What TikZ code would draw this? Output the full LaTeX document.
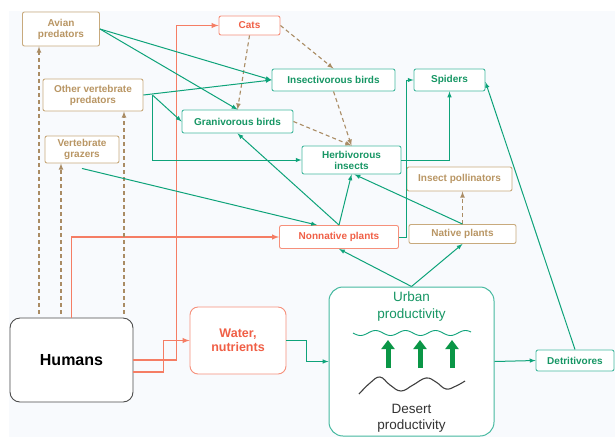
\documentclass[tikz,border=0pt]{standalone}
\usepackage{fontspec}
\setmainfont{Liberation Sans}
\usepackage{tikz}
\usetikzlibrary{positioning, arrows.meta}

\definecolor{grnline}{RGB}{14,163,122}
\definecolor{grnbox}{RGB}{70,185,160}
\definecolor{grntxt}{RGB}{22,150,100}
\definecolor{grnfat}{RGB}{10,150,70}
\definecolor{tanline}{RGB}{170,140,100}
\definecolor{tanbox}{RGB}{200,170,125}
\definecolor{tantxt}{RGB}{185,150,100}
\definecolor{redline}{RGB}{245,125,100}
\definecolor{redtxt}{RGB}{240,95,70}
\definecolor{bgcol}{RGB}{248,250,253}

\tikzset{
  box/.style={draw, fill=white, rounded corners=2pt, line width=0.9pt, inner sep=0pt,
    align=center, font=\bfseries\fontsize{10}{11}\selectfont},
  gbox/.style={box, draw=grnbox, text=grntxt},
  tbox/.style={box, draw=tanbox, text=tantxt},
  rbox/.style={box, draw=redline!85, text=redtxt},
  grnarr/.style={draw=grnline, line width=1pt},
  redarr/.style={draw=redline, line width=1.4pt},
  tandash/.style={draw=tanline, line width=1.1pt, dash pattern=on 4pt off 3pt},
}

\begin{document}
\begin{tikzpicture}[x=1pt, y=-1pt, >=latex]
    \useasboundingbox (0,0) rectangle (615,437);
    \fill[bgcol] (9,11) rectangle (615,437);

    % consumers
    \node[tbox, minimum width=77, minimum height=34] (Av) at (61,29) {Avian\\predators};
    \node[tbox, minimum width=100, minimum height=32] (OV) at (93,95) {Other vertebrate\\predators};
    \node[tbox, minimum width=74, minimum height=27] (VG) at (82,149.5) {Vertebrate\\grazers};
    \node[rbox, minimum width=61, minimum height=19] (Cat) at (249.5,25.5) {Cats};
    \node[gbox, minimum width=123, minimum height=22] (IB) at (333.5,80) {Insectivorous birds};
    \node[gbox, minimum width=111, minimum height=23] (GB) at (237.5,121.5) {Granivorous birds};
    \node[gbox, minimum width=71, minimum height=22] (SP) at (449.5,80) {Spiders};
    \node[gbox, minimum width=99, minimum height=28] (HI) at (351.5,160) {Herbivorous\\insects};
    \node[tbox, minimum width=105, minimum height=24] (IP) at (459.5,179) {Insect pollinators};
    \node[rbox, minimum width=119, minimum height=23] (NN) at (339,237) {Nonnative plants};
    \node[tbox, minimum width=107, minimum height=19] (NP) at (462.5,234) {Native plants};
    \node[gbox, minimum width=78, minimum height=21] (Det) at (575,360.5) {Detritivores};

    % humans, resources, productivity
    \node[box, draw=black!70, rounded corners=10pt, minimum width=123, minimum height=84,
      font=\bfseries\fontsize{16}{18}\selectfont] (Hum) at (71.5,360) {Humans};
    \node[rbox, rounded corners=8pt, minimum width=96, minimum height=67,
      font=\bfseries\fontsize{12.5}{14}\selectfont] (Wat) at (238,340.5) {Water,\\nutrients};
    \node[draw=grnbox, fill=white, line width=1pt, rounded corners=14pt,
      minimum width=165, minimum height=149] (Urb) at (411.5,361.5) {};
    \node[text=grntxt, align=center, font=\fontsize{13.5}{17}\selectfont] (UP) at (411.5,307) {Urban\\productivity};
    \node[text=black!80, align=center, font=\fontsize{13.5}{16}\selectfont] (DP) at (411.5,418) {Desert\\productivity};

    \draw[grnline, line width=0.9pt] plot[domain=353:471, samples=90, smooth] (\x,{333+2.5*sin(12*(\x-353))});
    \foreach \x in {388,420,452}
      \draw[grnfat, line width=5pt, -{Triangle[width=13pt,length=9pt]}] (\x,368) -- (\x,340);
    \draw[black!75, line width=1.1pt] plot[smooth, tension=0.7] coordinates
      {(359,394) (370,383) (380,377) (390,385) (401,391) (413,385) (426,378) (436,382) (446,389) (456,386) (465,381)};

    % human influences
    \draw[redarr, ->] (Hum.east) -- ++(43,0) |- (Cat.west);
    \draw[redarr, ->] ([yshift=-12pt]Hum.east) -- ++(30,0) |- (Wat.west);
    \draw[redarr, ->] (Hum.north) |- (NN.west);

    \coordinate (h1) at ([xshift=-32.5pt, yshift=4pt]Hum.north);
    \coordinate (h2) at ([xshift=-10.5pt, yshift=4pt]Hum.north);
    \coordinate (h3) at ([xshift=52.5pt, yshift=4pt]Hum.north);
    \path[every edge/.style={draw, tandash}, ->]
    (h1) edge (h1 |- Av.south)
    (h2) edge (h2 |- VG.south)
    (h3) edge (h3 |- OV.south)
    (Cat.south) edge (GB.north)
    (Cat.east) edge (IB.north)
    (IB.south) edge (HI.north)
    (GB.east) edge (HI.north)
    (NP.north) edge (NP.north |- IP.south)
    ;

    % food web
    \coordinate (ov) at ([xshift=9pt]OV.east);
    \coordinate (gz) at ([yshift=-5pt]VG.south);
    \path[every edge/.style={draw, grnarr}, ->]
    (Av.east) edge (IB.west)
    (Av.east) edge (GB.north)
    (OV.east) edge (IB.west)
    (ov) edge (GB.west)
    (gz) edge ([xshift=-22pt]NN.north)
    (NN.north) edge (GB.south)
    (NN.north) edge (HI.south)
    (NP.north) edge ([xshift=3pt]HI.south)
    (Det.north) edge ([yshift=-2pt]SP.east)
    (Urb.north) edge (NN.south)
    (Urb.north) edge (NP.south)
    (Urb.east) edge (Det.west)
    ;
    \draw[grnarr, ->] (ov) |- (HI.west);
    \draw[grnarr, ->] (NN.east) -- ++(8,0) |- (SP.west);
    \draw[grnarr, ->] (HI.east) -| (SP.south);
    \draw[grnarr, ->] (Wat.east) -- ++(20,0) |- (Urb.west);
\end{tikzpicture}
\end{document}
